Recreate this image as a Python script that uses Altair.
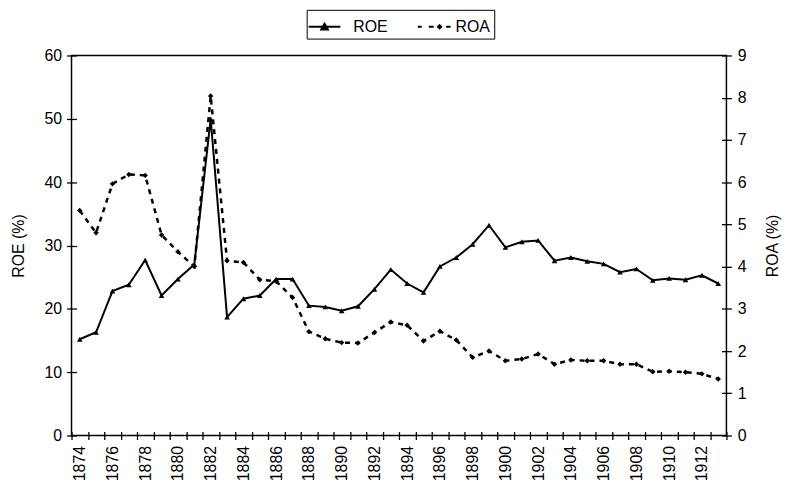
import altair as alt
import pandas as pd

years = list(range(1874, 1914))
roe = [15.2, 16.3, 22.8, 23.8, 27.7, 22.1, 24.7, 27.0, 50.0, 18.7,
       21.6, 22.1, 24.7, 24.7, 20.5, 20.3, 19.7, 20.4, 23.1, 26.2,
       24.0, 22.6, 26.7, 28.1, 30.2, 33.2, 29.7, 30.6, 30.8, 27.6,
       28.1, 27.5, 27.1, 25.8, 26.3, 24.5, 24.8, 24.6, 25.3, 24.0]
roa = [5.33, 4.80, 5.96, 6.18, 6.16, 4.75, 4.35, 4.00, 8.04, 4.14,
       4.10, 3.69, 3.65, 3.27, 2.46, 2.29, 2.20, 2.19, 2.44, 2.69,
       2.61, 2.24, 2.47, 2.26, 1.85, 2.00, 1.77, 1.81, 1.93, 1.69,
       1.79, 1.77, 1.77, 1.69, 1.69, 1.51, 1.52, 1.50, 1.46, 1.34]
series = ["ROE", "ROA"]
roe_ticks = [0, 10, 20, 30, 40, 50, 60]
roa_ticks = [0, 1, 2, 3, 4, 5, 6, 7, 8, 9]

df = pd.DataFrame({"year": years, "ROE": roe, "ROA": roa})
legend_df = pd.DataFrame({"series": series})

FONT = "Liberation Sans"

x_enc = alt.X(
    "year:O",
    title=None,
    scale=alt.Scale(type="band", paddingInner=0, paddingOuter=0),
    axis=alt.Axis(
        labelAngle=270,
        labelExpr="datum.value % 2 == 0 ? datum.label : ''",
        tickBand="extent",
        labelFontSize=16,
        labelPadding=6,
        tickSize=8,
        offset=-4,
        domain=False,
    ),
)

y_roe = alt.Y(
    "ROE:Q",
    scale=alt.Scale(domain=[0, 60]),
    axis=alt.Axis(values=roe_ticks, title="ROE (%)", orient="left", grid=False,
                  titlePadding=18, labelFontSize=16, tickSize=10, offset=-5,
                  labelPadding=5, domain=False),
)
y_roa = alt.Y(
    "ROA:Q",
    scale=alt.Scale(domain=[0, 9]),
    axis=alt.Axis(values=roa_ticks, title="ROA (%)", orient="right", grid=False,
                  titlePadding=35, titleAngle=270, labelFontSize=16, tickSize=10,
                  offset=-5, labelPadding=6, domain=False),
)

base = alt.Chart(df)

roe_line = base.mark_line(color="black", strokeWidth=2).encode(x=x_enc, y=y_roe)
roe_pts = base.mark_point(shape="triangle-up", filled=True, color="black",
                          size=32, opacity=1).encode(x=x_enc, y=y_roe)
roa_line = base.mark_line(color="black", strokeWidth=2.5,
                          strokeDash=[5, 5]).encode(x=x_enc, y=y_roa)
roa_pts = base.mark_point(shape="diamond", filled=True, color="black",
                          size=30, opacity=1).encode(x=x_enc, y=y_roa)

roe_path = "M-1.33,-0.08H1.33V0.08H-1.33Z M-0.42,0.33L0,-0.42L0.42,0.33Z"
roa_path = ("M-0.75,-0.08H-0.42V0.08H-0.75Z"
            "M0.17,-0.08H0.58V0.08H0.17Z"
            "M1.63,-0.08H2.0V0.08H1.63Z"
            "M1.08,-0.25L1.33,0L1.08,0.25L0.83,0Z")

legend_layer = alt.Chart(legend_df).mark_point(
    filled=True, fill="black", opacity=1
).encode(
    shape=alt.Shape(
        "series:N",
        scale=alt.Scale(domain=series, range=[roe_path, roa_path]),
        legend=alt.Legend(
            title=None,
            orient="none",
            direction="horizontal",
            legendX=237,
            legendY=-46,
            strokeColor="black",
            fillColor="white",
            padding=4,
            symbolSize=576,
            symbolOffset=1,
            symbolFillColor="black",
            symbolOpacity=1,
            labelFontSize=16,
            labelColor="black",
            columnPadding=25,
            labelOffset=16,
        ),
    )
).transform_filter("false")

chart = alt.layer(
    alt.layer(roe_line, roe_pts),
    alt.layer(roa_line, roa_pts),
    legend_layer,
).resolve_scale(y="independent").properties(
    width=660,
    height=383,
    autosize=alt.AutoSizeParams(type="none"),
    padding={"left": 64, "top": 46, "right": 56, "bottom": 45},
).configure(
    font=FONT,
).configure_axis(
    labelColor="black",
    titleColor="black",
    tickColor="black",
    titleFontWeight="normal",
    titleFontSize=16,
    tickWidth=1.3,
    labelFont=FONT,
    titleFont=FONT,
).configure_view(
    stroke="black",
    strokeWidth=1.5,
).configure_legend(
    labelFont=FONT,
)

chart.save("out.html", embed_options={"renderer": "svg", "actions": False})
